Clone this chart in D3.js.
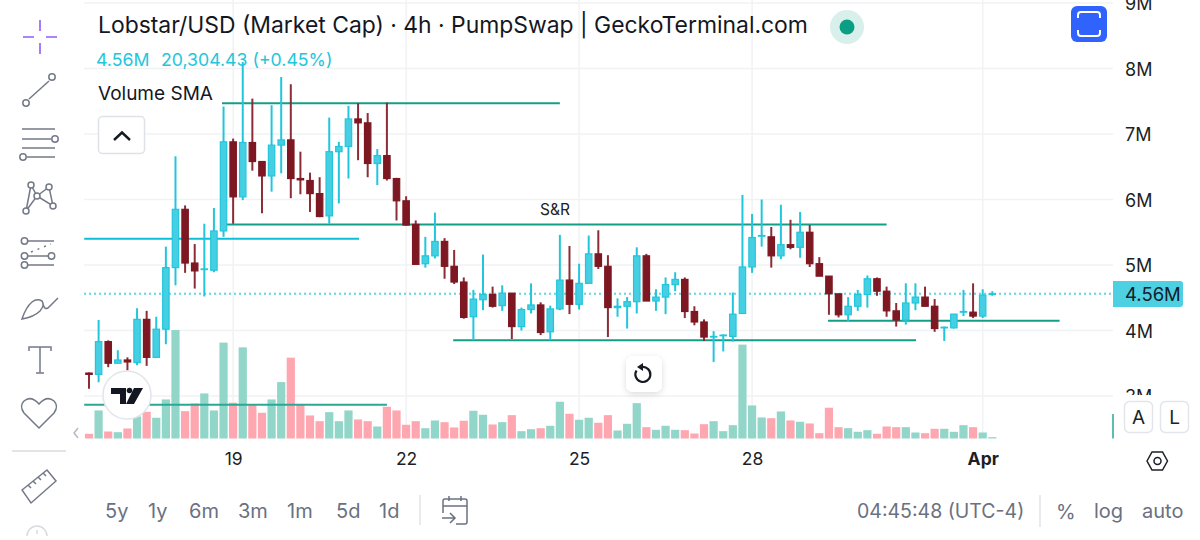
<!DOCTYPE html>
<html>
<head>
<meta charset="utf-8">
<script src="https://cdn.jsdelivr.net/npm/d3@7"></script>
<style>
  html, body { margin: 0; padding: 0; background: #fff; overflow: hidden; }
  text { font-family: Inter, "Noto Sans", sans-serif; }
</style>
</head>
<body>
<svg id="chart" width="1200" height="540"></svg>
<script>
// price in millions, one entry per 4h candle
const opens = [3.35,3.33,3.83,3.50,3.55,3.51,4.17,3.59,4.02,4.96,5.85,5.03,4.93,4.92,5.52,6.88,6.04,6.87,6.58,6.36,
  6.83,6.91,6.32,6.29,6.09,5.75,6.73,6.81,7.23,7.17,6.55,6.67,6.32,5.98,5.62,5.02,5.14,5.36,4.98,4.74,
  4.21,4.47,4.55,4.38,4.57,4.06,4.32,4.39,3.98,4.33,4.77,4.40,4.72,5.17,4.98,4.35,4.37,4.44,5.14,4.45,
  4.51,4.70,4.78,4.29,4.13,3.90,3.92,3.91,4.26,4.97,5.44,5.43,5.14,5.31,5.27,5.50,5.02,4.83,4.56,4.24,
  4.37,4.55,4.79,4.60,4.30,4.16,4.42,4.51,4.37,4.04,4.04,4.28,4.28,4.22,4.55];
const highs = [3.36,4.16,3.85,3.70,3.59,4.34,4.30,4.21,5.28,6.66,5.91,5.32,5.63,5.87,7.42,6.93,8.10,7.54,6.58,7.44,
  7.87,7.76,6.73,6.41,6.34,7.25,6.88,7.43,7.47,7.32,6.77,7.48,6.33,6.05,5.68,5.43,5.80,5.41,5.23,4.81,
  4.62,5.16,4.67,4.69,4.57,4.35,4.72,4.43,4.38,5.46,5.29,5.02,5.45,5.53,5.15,4.49,4.51,5.27,5.17,4.63,
  4.81,4.89,4.81,4.37,4.17,3.99,3.94,4.58,6.07,5.78,6.00,5.58,5.92,5.69,5.81,5.61,5.12,4.83,4.56,4.51,
  4.62,4.84,4.81,4.67,4.42,4.72,4.72,4.67,4.48,4.06,4.25,4.62,4.72,4.63,4.60];
const lows = [3.11,3.21,3.44,3.50,3.39,3.47,3.46,3.58,3.79,4.69,4.88,4.64,4.52,4.89,5.43,5.63,5.99,6.44,5.79,6.12,
  6.40,6.02,6.08,5.81,5.73,5.63,5.94,6.32,6.60,6.34,6.22,6.29,5.68,5.60,5.01,4.96,5.10,4.79,4.71,4.18,
  3.85,4.31,4.35,4.30,3.87,4.00,4.26,3.93,3.85,4.31,4.25,4.32,4.71,4.94,3.90,4.21,4.03,4.26,4.45,4.30,
  4.25,4.60,4.19,4.08,3.84,3.52,3.68,3.83,4.26,4.88,5.28,4.96,5.09,5.24,5.11,4.97,4.83,4.24,4.20,4.13,
  4.30,4.35,4.53,4.21,4.06,4.09,4.31,4.37,3.98,3.84,4.03,4.22,4.19,4.19,4.53];
const closes = [3.33,3.83,3.50,3.55,3.52,4.17,3.59,4.02,4.96,5.85,5.03,4.91,4.94,5.52,6.88,6.04,6.87,6.58,6.36,6.83,
  6.91,6.32,6.30,6.09,5.74,6.73,6.81,7.23,7.17,6.55,6.67,6.32,5.98,5.61,5.01,5.14,5.36,4.98,4.74,4.20,
  4.48,4.55,4.37,4.57,4.06,4.32,4.39,3.97,4.33,4.77,4.40,4.72,5.17,4.98,4.35,4.37,4.44,5.14,4.45,4.51,
  4.70,4.78,4.29,4.13,3.90,3.91,3.93,4.25,4.97,5.42,5.45,5.14,5.31,5.27,5.50,5.02,4.83,4.56,4.24,4.37,
  4.55,4.79,4.60,4.30,4.16,4.42,4.51,4.37,4.03,4.05,4.25,4.29,4.22,4.54,4.56];
// volume, relative to the tallest bars
const volumes = [4.7,28,7,6.3,10,22,26.7,20.7,39,108.3,27.3,35,45,28,95.7,35.7,91,34,25.7,39,
  56.3,80.7,34,23,17.3,26.3,17.3,28,19,17.3,12,31.7,28,13.7,17.3,10.3,18,16.3,11,17.7,
  27.7,23.7,14,16.3,23.3,7.3,9.3,10.3,12.7,36.7,24.7,18.7,20.7,15.7,23.3,8,14.7,35.3,11.3,8.7,
  12.7,8.7,8.3,5,14.3,17.3,7.3,13.3,93.7,33,21,20.3,27,18,16.7,15,5.3,30.7,11.3,10.3,
  6.7,8.3,4.7,12,11.3,11.3,6,5.3,9.7,9.7,6.7,13.3,11.3,6,1.3];

const priceTicks = [3, 4, 5, 6, 7, 8, 9];
const dateTickIndex = [15, 33, 51, 69, 93];
const dateTickLabels = ["19", "22", "25", "28", "Apr"];
const ranges = ["5y", "1y", "6m", "3m", "1m", "5d", "1d"];
const lastPrice = 4.56;

// hand drawn lines: candle index from/to and price level
const drawnLines = [
  { from: 13.84, to: 49, level: 7.47, color: "#089981" },
  { from: 13.84, to: 83, level: 5.62, color: "#089981" },
  { from: 37.9, to: 86.06, level: 3.85, color: "#089981" },
  { from: 76.9, to: 101, level: 4.15, color: "#089981" },
  { from: -0.5, to: 28.1, level: 5.4, color: "#00bcd4" },
];
const volumeLine = { from: -0.5, to: 31, level: 33.8 };

const cyan = "#22c6dc";
const cyanFill = "#46cfe2";
const maroon = "#7d1822";
const maroonWick = "#8b2c36";
const grey = "#6a7181";
const toolGrey = "#737987";
const gridColor = "#f1f2f4";

const svg = d3.select("#chart");
const left = 84;
const right = 1113;
const volumeBase = 438.5;

const x = d3.scaleLinear().domain([0, 94]).range([89, 992.3]);
const y = d3.scaleLinear().domain([4, 8]).range([330.5, 68.5]);
const yVol = d3.scaleLinear().domain([0, 108.3]).range([volumeBase, 330]);
const candles = opens.map((o, i) => ({ i, o, h: highs[i], l: lows[i], c: closes[i], v: volumes[i], up: closes[i] >= o }));

// The price labels are cut off where the volume pane begins
svg.append("defs").append("clipPath").attr("id", "axisClip")
  .append("rect").attr("x", 0).attr("y", -5).attr("width", 87).attr("height", 400);
const shadow = svg.select("defs").append("filter").attr("id", "softShadow")
  .attr("x", "-40%").attr("y", "-40%").attr("width", "180%").attr("height", "180%");
shadow.append("feDropShadow").attr("dx", 0).attr("dy", 2).attr("stdDeviation", 3)
  .attr("flood-color", "#000").attr("flood-opacity", 0.14);

// Grid
const grid = svg.append("g").attr("stroke", gridColor).attr("stroke-width", 1.5);
grid.selectAll(".h").data(priceTicks).join("line").attr("class", "h")
  .attr("x1", left).attr("x2", right).attr("y1", (d) => y(d)).attr("y2", (d) => y(d));
grid.selectAll(".v").data(dateTickIndex).join("line").attr("class", "v")
  .attr("x1", (d) => x(d)).attr("x2", (d) => x(d)).attr("y1", 0).attr("y2", volumeBase);

// Volume bars
svg.append("g").selectAll("rect").data(candles).join("rect")
  .attr("x", (d) => x(d.i) - 4.1)
  .attr("width", 8.2)
  .attr("y", (d) => yVol(d.v))
  .attr("height", (d) => volumeBase - yVol(d.v))
  .attr("fill", (d) => (d.up ? "#92d5c9" : "#fea7b0"));

// Volume SMA segment and the stub at the pane edge
svg.append("line")
  .attr("x1", x(volumeLine.from)).attr("x2", x(volumeLine.to))
  .attr("y1", yVol(volumeLine.level)).attr("y2", yVol(volumeLine.level))
  .attr("stroke", "#2aa894").attr("stroke-width", 2);
svg.append("line").attr("x1", 1113).attr("x2", 1113).attr("y1", yVol(24.5)).attr("y2", volumeBase)
  .attr("stroke", "#2aa894").attr("stroke-width", 1.5);

// Last price line
svg.append("line")
  .attr("x1", left).attr("x2", right).attr("y1", y(lastPrice)).attr("y2", y(lastPrice))
  .attr("stroke", "#5fd6e6").attr("stroke-width", 2).attr("stroke-dasharray", "2 3");

// Drawn lines
svg.append("g").selectAll("line").data(drawnLines).join("line")
  .attr("x1", (d) => x(d.from)).attr("x2", (d) => x(d.to))
  .attr("y1", (d) => y(d.level)).attr("y2", (d) => y(d.level))
  .attr("stroke", (d) => d.color).attr("stroke-width", 2).attr("opacity", 0.95);

// Candles
const candle = svg.append("g").selectAll("g").data(candles).join("g");
candle.append("line")
  .attr("x1", (d) => x(d.i)).attr("x2", (d) => x(d.i))
  .attr("y1", (d) => y(d.h)).attr("y2", (d) => y(d.l))
  .attr("stroke", (d) => (d.up ? cyan : maroonWick)).attr("stroke-width", 2);
candle.append("rect")
  .attr("x", (d) => x(d.i) - 3.2)
  .attr("width", 6.4)
  .attr("y", (d) => y(Math.max(d.o, d.c)))
  .attr("height", (d) => Math.max(0.6, Math.abs(y(d.o) - y(d.c))))
  .attr("fill", (d) => (d.up ? cyanFill : maroon))
  .attr("stroke", (d) => (d.up ? cyan : maroon)).attr("stroke-width", 1.2);

svg.append("text").attr("x", 555).attr("y", 215).attr("text-anchor", "middle")
  .attr("font-size", 15.5).attr("fill", "#222").text("S&R");

// Axes
const yAxis = svg.append("g").attr("transform", `translate(${right},0)`).attr("clip-path", "url(#axisClip)")
  .call(d3.axisRight(y).tickValues(priceTicks).tickSize(0).tickPadding(12).tickFormat((d) => `${d}M`));
yAxis.select(".domain").remove();
yAxis.selectAll("text").attr("font-size", 18).attr("fill", "#1c1f26").style("font-family", "Inter")
  .attr("dy", "0.37em");

const xAxis = svg.append("g").attr("transform", "translate(0,453)")
  .call(d3.axisBottom(x).tickValues(dateTickIndex).tickSize(0).tickPadding(0)
    .tickFormat((d, i) => dateTickLabels[i]));
xAxis.select(".domain").remove();
xAxis.selectAll("text")
  .attr("font-size", 17.5).attr("fill", "#1c1f26").style("font-family", "Inter")
  .attr("font-weight", (d, i) => (dateTickLabels[i] === "Apr" ? 700 : 400));

// Last price tag
svg.append("path").attr("fill", "#4dd0e1").attr("d", "M1113 281h67q3 0 3 3v20q0 3-3 3h-67z");
svg.append("text").attr("x", 1125).attr("y", 300.5).attr("font-size", 18.5).attr("fill", "#13202a").text("4.56M");

// Legend
svg.append("text").attr("x", 98).attr("y", 33).attr("font-size", 22.9).attr("fill", "#14171f")
  .text("Lobstar/USD (Market Cap) · 4h · PumpSwap | GeckoTerminal.com");
const legendVals = svg.append("g").attr("font-size", 17.7).attr("fill", cyan);
legendVals.append("text").attr("x", 96).attr("y", 66).text("4.56M");
legendVals.append("text").attr("x", 161).attr("y", 66).text("20,304.43 (+0.45%)");
svg.append("text").attr("x", 98).attr("y", 100).attr("font-size", 19).attr("fill", "#14171f").text("Volume SMA");

svg.append("circle").attr("cx", 847).attr("cy", 27).attr("r", 17).attr("fill", "#d8efeb");
svg.append("circle").attr("cx", 847).attr("cy", 27).attr("r", 7.5).attr("fill", "#0a9e84");

// Fullscreen button
svg.append("rect").attr("x", 1071).attr("y", 6).attr("width", 36).attr("height", 36).attr("rx", 6).attr("fill", "#2f63fb");
svg.append("path").attr("fill", "none").attr("stroke", "#fff").attr("stroke-width", 2)
  .attr("d", "M1078 18v-3q0-3 3-3h16q3 0 3 3v3M1078 30v3q0 3 3 3h16q3 0 3-3v-3");

// Collapse button
svg.append("rect").attr("x", 98.5).attr("y", 116.5).attr("width", 46).attr("height", 37).attr("rx", 4)
  .attr("fill", "#fff").attr("stroke", "#dfe1e8").attr("stroke-width", 1.5);
svg.append("path").attr("fill", "none").attr("stroke", "#161a23").attr("stroke-width", 2.4)
  .attr("d", "M114 140l8-7.5 8 7.5");

// TradingView badge
svg.append("circle").attr("cx", 127).attr("cy", 395).attr("r", 24).attr("fill", "#fff").attr("stroke", "#e3e5ec").attr("stroke-width", 1.5);
svg.append("path").attr("fill", "#131722")
  .attr("d", "M111 388h15v16h-6v-10h-9zM134 388h9l-9 16h-8z");
svg.append("circle").attr("cx", 129.500).attr("cy", 390.500).attr("r", 2.8).attr("fill", "#131722");

// Reset button
svg.append("rect").attr("x", 626).attr("y", 356).attr("width", 36).attr("height", 36).attr("rx", 7)
  .attr("fill", "#fff").attr("filter", "url(#softShadow)");
svg.append("path").attr("fill", "none").attr("stroke", "#161a23").attr("stroke-width", 2.2)
  .attr("d", "M642 367a7.5 7.5 0 1 1-5.5 3.5");
svg.append("path").attr("fill", "#161a23").attr("d", "M643 363v8l-6-4z");

// A / L buttons and settings hexagon
[["A", 1124], ["L", 1160]].forEach(([label, bx]) => {
  svg.append("rect").attr("x", bx + 0.5).attr("y", 401.5).attr("width", 28).attr("height", 31).attr("rx", 5)
    .attr("fill", "#fff").attr("stroke", "#e3e5ec").attr("stroke-width", 1.5);
  svg.append("text").attr("x", bx + 14.5).attr("y", 424).attr("text-anchor", "middle")
    .attr("font-size", 19).attr("fill", "#1c1f26").text(label);
});
svg.append("path").attr("fill", "none").attr("stroke", "#1c1f26").attr("stroke-width", 1.5)
  .attr("d", "M1147 461l5-9h10.500l5 9-5 9H1152z");
svg.append("circle").attr("cx", 1157.500).attr("cy", 461).attr("r", 3.5).attr("fill", "none").attr("stroke", "#1c1f26").attr("stroke-width", 1.5);

// Bottom bar
const rangeX = [105, 148, 189, 238, 287, 336, 379];
svg.append("g").selectAll("text").data(ranges).join("text")
  .attr("x", (d, i) => rangeX[i]).attr("y", 518).attr("font-size", 20).attr("fill", grey).text((d) => d);
[[420, 495, 525], [1040, 495, 527]].forEach(([sx, y1, y2]) => {
  svg.append("line").attr("x1", sx).attr("x2", sx).attr("y1", y1).attr("y2", y2).attr("stroke", "#e0e3e9").attr("stroke-width", 1.5);
});
svg.append("path").attr("fill", "none").attr("stroke", grey).attr("stroke-width", 1.5)
  .attr("d", "M443 513V501q0-2 2-2h20q2 0 2 2v21q0 2-2 2h-9M449 496v5M461 496v5M443 506h24M442 518h13M450 513l5 5-5 5");
svg.append("text").attr("x", 857).attr("y", 518).attr("font-size", 19.5).attr("fill", grey).text("04:45:48 (UTC-4)");
svg.append("text").attr("x", 1056).attr("y", 519).attr("font-size", 20).attr("fill", grey).text("%");
svg.append("text").attr("x", 1094).attr("y", 518).attr("font-size", 20).attr("fill", grey).text("log");
svg.append("text").attr("x", 1142).attr("y", 518).attr("font-size", 20).attr("fill", grey).text("auto");

// Left toolbar icons
const tools = svg.append("g").attr("fill", "none").attr("stroke", toolGrey).attr("stroke-width", 1.5);
svg.append("path").attr("fill", "none").attr("stroke", "#8f5cf6").attr("stroke-width", 1.6)
  .attr("d", "M40 20v11M40 43v11M23 37h11M46 37h11");
tools.append("path").attr("d", "M29 99L49 81");
tools.append("circle").attr("cx", 26).attr("cy", 103).attr("r", 3.2);
tools.append("circle").attr("cx", 52).attr("cy", 77).attr("r", 3.2);
tools.append("path").attr("d", "M22 129h33M22 139h29M22 148h33M27 157h28");
tools.append("circle").attr("cx", 55).attr("cy", 139).attr("r", 3.2);
tools.append("circle").attr("cx", 23).attr("cy", 157).attr("r", 3.2);
tools.append("path").attr("d", "M31 185L26 211L37 196L31 185M37 196L49 187L53 206L37 196");
[[31, 185], [49, 187], [37, 196], [26, 211], [53, 206]].forEach(([cx, cy]) => {
  tools.append("circle").attr("cx", cx).attr("cy", cy).attr("r", 3).attr("fill", "#fff");
});
tools.append("path").attr("d", "M28 241h26M28 256h20M28 265h26");
tools.append("path").attr("d", "M31 252l20-8").attr("stroke-dasharray", "2 5");
tools.append("circle").attr("cx", 24.500).attr("cy", 241).attr("r", 3.2);
tools.append("circle").attr("cx", 24.500).attr("cy", 256).attr("r", 3.2);
tools.append("circle").attr("cx", 24.500).attr("cy", 265).attr("r", 3.2);
tools.append("circle").attr("cx", 51.500).attr("cy", 256).attr("r", 3.2);
tools.append("path").attr("d", "M22 319q12-2 18-8 5-6 2-10-5-3-10 1-6 5-10 17zM43 304q2 8 7 2l8-8");
tools.append("path").attr("d", "M29 351v-4h22v4M40 347v26M36 373h8");
tools.append("path").attr("d", "M39 428L24 413q-5-7 0-12 7-6 15 3 8-9 15-3 5 5 0 12z");
svg.append("line").attr("x1", 12).attr("x2", 66).attr("y1", 451).attr("y2", 451).attr("stroke", "#d9dbe1").attr("stroke-width", 1.5);
tools.append("path").attr("d", "M22 490L47 470L56 481L31 503zM28 485l3 3M33 481l3 3M38 477l3 3M43 473l3 3");
tools.append("path").attr("stroke", "#d9dbe1").attr("d", "M27 536a10 10 0 0 1 20 0M37 530v4");
svg.append("path").attr("fill", "none").attr("stroke", "#b5b9c4").attr("stroke-width", 1.5).attr("d", "M78 428l-4 5 4 5");
</script>
</body>
</html>
